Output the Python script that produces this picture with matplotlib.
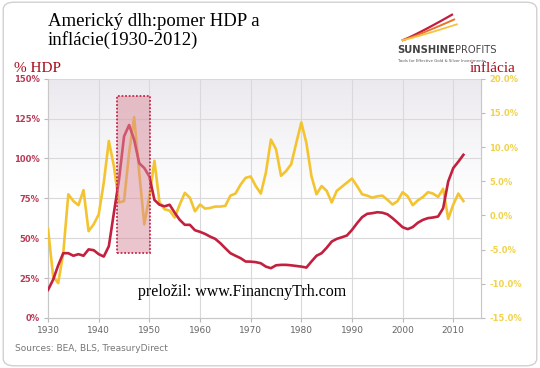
import numpy as np
import matplotlib
matplotlib.use('Agg')
import matplotlib.pyplot as plt
from matplotlib.patches import Rectangle, FancyBboxPatch

# data
years_debt = list(range(1930, 2013))
debt_gdp = [17.6, 24, 33, 40.6, 40.6, 39, 40, 39, 43, 42.5,
            40, 38.5, 45, 66, 86.6, 113.8, 121, 111.7, 97, 94,
            88.7, 74, 71, 70, 71, 66, 61.5, 58.4, 58.4, 55,
            54, 52.7, 51, 49.6, 46.9, 43.7, 40.6, 39, 37.5, 35.4,
            35.3, 35, 34.3, 32.2, 31.2, 33, 33.3, 33.3, 33, 32.6,
            32.2, 31.6, 35.4, 39, 40.6, 44, 47.9, 49.6, 50.6, 51.7,
            55.2, 59.4, 63.2, 65.3, 65.7, 66.3, 66, 65, 62.6, 59.8,
            56.9, 55.7, 57, 59.7, 61.5, 62.6, 63, 63.6, 68.8, 85.6,
            94, 98, 102.3]

years_infl = list(range(1930, 2013))
inflation = [-2.0, -8.9, -9.9, -5.5, 3.1, 2.1, 1.5, 3.7, -2.3, -1.3,
             0.15, 4.8, 10.9, 7.2, 1.9, 2.1, 9.2, 14.4, 6.25, -1.3,
             2.8, 8.0, 1.9, 0.9, 0.7, -0.3, 1.6, 3.3, 2.6, 0.6,
             1.6, 1.0, 1.1, 1.3, 1.3, 1.4, 2.9, 3.2, 4.5, 5.5,
             5.7, 4.3, 3.2, 6.25, 11.1, 9.7, 5.8, 6.5, 7.5, 10.6,
             13.6, 10.6, 5.75, 3.1, 4.3, 3.6, 1.9, 3.6, 4.2, 4.8,
             5.4, 4.3, 3.1, 2.9, 2.6, 2.8, 2.9, 2.3, 1.6, 2.1,
             3.4, 2.8, 1.5, 2.2, 2.7, 3.4, 3.2, 2.7, 3.9, -0.5,
             1.6, 3.2, 2.1]

left_ticks = [0, 25, 50, 75, 100, 125, 150]
left_labels = ['0%', '25%', '50%', '75%', '100%', '125%', '150%']
right_ticks = [-15, -10, -5, 0, 5, 10, 15, 20]
right_labels = ['-15.0%', '-10.0%', '-5.0%', '0.0%', '5.0%', '10.0%', '15.0%', '20.0%']
decades = [1930, 1940, 1950, 1960, 1970, 1980, 1990, 2000, 2010]
box_years = [1943.7, 1950.1]
box_range = [40.8, 139.4]

red = '#c3203f'
yellow = '#f3c430'
dark_red = '#a50b16'

fig = plt.figure(figsize=(5.4, 3.68), dpi=100)
fig.patch.set_facecolor('white')
fig.patches.append(FancyBboxPatch((0.006, 0.006), 0.988, 0.988,
                                  boxstyle='round,pad=0,rounding_size=0.02',
                                  transform=fig.transFigure, fc='white',
                                  ec='#d0d0d0', lw=1.0, zorder=-10))

ax = fig.add_axes([0.089, 0.136, 0.802, 0.650])
ax2 = ax.twinx()
ax.set_xlim(1930, 2015.5)
ax.set_ylim(0, 150)
ax2.set_ylim(-15, 20)
ax.set_zorder(ax2.get_zorder() + 1)

# background gradient
grad = np.linspace(0, 1, 256).reshape(-1, 1)
cmap = matplotlib.colors.LinearSegmentedColormap.from_list('bg', ['#ffffff', '#ffffff', '#ebe9ee'])
ax.imshow(grad, extent=[0, 1, 0, 1], transform=ax.transAxes, cmap=cmap,
          aspect='auto', origin='lower', zorder=0)

for y in left_ticks:
    ax.axhline(y, color='#d9d9dc', lw=0.8, zorder=1)
for x in decades:
    ax.axvline(x, color='#d9d9dc', lw=0.8, zorder=1)

# inflation drawn in the top axes but with the right-hand scale
ax.plot(years_infl, inflation, color=yellow, lw=1.9, solid_joinstyle='round',
        transform=ax2.transData, zorder=3)
ax.plot(years_debt, debt_gdp, color=red, lw=1.9, solid_joinstyle='round', zorder=4)

# highlighted war period, laid over the lines
ax.add_patch(Rectangle((box_years[0], box_range[0]), box_years[1] - box_years[0],
                       box_range[1] - box_range[0], fc='#d98c9c', alpha=0.5, lw=0, zorder=5))
ax.add_patch(Rectangle((box_years[0], box_range[0]), box_years[1] - box_years[0],
                       box_range[1] - box_range[0], fc='none', ec='#c8284a',
                       lw=1.3, ls=(0, (1, 1)), zorder=6))
ax.set_xlim(1930, 2015.5)
ax.set_ylim(0, 150)

ax.set_xticks(decades)
ax.set_xticklabels([str(d) for d in decades], color='#666666', fontsize=6.5)
ax.set_yticks(left_ticks)
ax.set_yticklabels(left_labels, color='#b83a55', fontsize=6, fontweight='bold')
ax2.set_yticks(right_ticks)
ax2.set_yticklabels(right_labels, color='#f0d34a', fontsize=6, fontweight='bold')
ax.tick_params(axis='both', length=3, color='#bbbbbb', pad=3)
ax2.tick_params(axis='y', length=3, color='#bbbbbb', pad=3)
for a in (ax, ax2):
    for s in a.spines.values():
        s.set_color('#c8c8c8')
        s.set_linewidth(0.8)
    a.spines['top'].set_visible(False)

# texts
fig.text(0.089, 0.965, 'Americký dlh:pomer HDP a\ninflácie(1930-2012)', family='Liberation Serif',
         fontsize=13.5, va='top', ha='left', color='black', linespacing=1.12)
fig.text(0.026, 0.795, '% HDP', family='Liberation Serif', fontsize=11, color=dark_red, va='bottom')
fig.text(0.955, 0.795, 'inflácia', family='Liberation Serif', fontsize=11, color=dark_red,
         va='bottom', ha='right')
fig.text(0.255, 0.195, 'preložil: www.FinancnyTrh.com', family='Liberation Serif', fontsize=11.5,
         color='black')
fig.text(0.028, 0.045, 'Sources: BEA, BLS, TreasuryDirect', fontsize=6.5, color='#777777')

# logo
fig.text(0.735, 0.855, 'SUNSHINE', fontsize=7.2, fontweight='bold', color='#444444')
fig.text(0.842, 0.855, 'PROFITS', fontsize=7.2, color='#444444')
fig.text(0.737, 0.832, 'Tools for Effective Gold & Silver Investments', fontsize=2.8, color='#555555')
t = np.linspace(0, 1, 30)
ends = [(0.837, 0.960), (0.841, 0.947), (0.846, 0.934)]
for (ex, ey), c, w in zip(ends, ['#c41c3c', '#e8742a', '#f5c43c'], [1.6, 1.4, 1.3]):
    xs = 0.746 + (ex - 0.746) * t
    ys = 0.891 + (ey - 0.891) * t ** 1.1
    fig.add_artist(plt.Line2D(xs, ys, color=c, lw=w, transform=fig.transFigure))

plt.savefig('out.png', dpi=100)
